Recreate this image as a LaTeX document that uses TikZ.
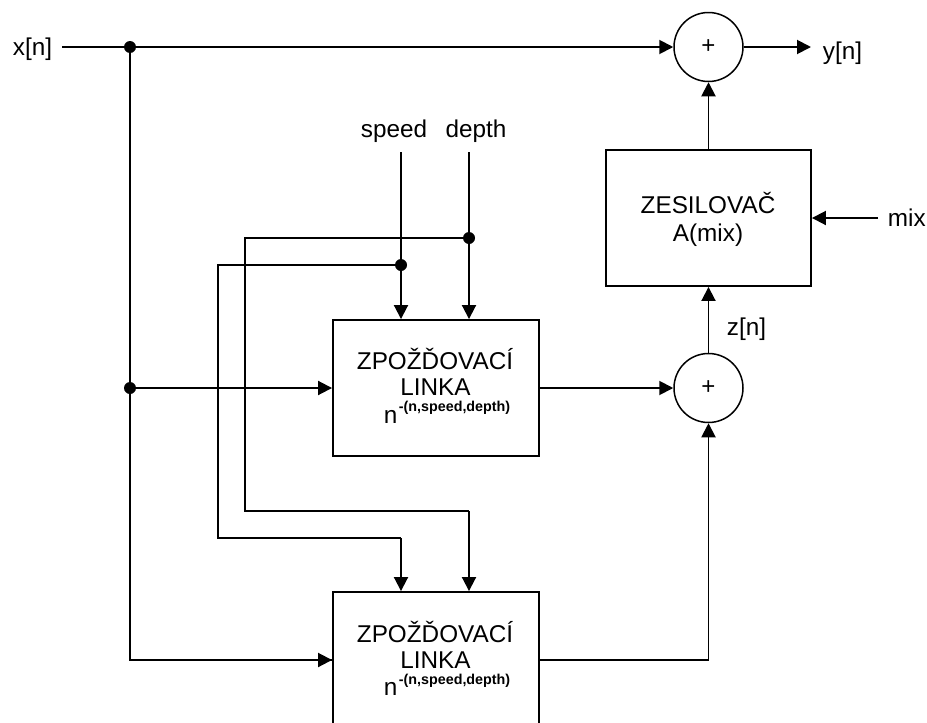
\documentclass[tikz,border=0pt]{standalone}
\usepackage{fontspec}
\setmainfont{Liberation Sans}
\usetikzlibrary{arrows.meta}
\begin{document}
\begin{tikzpicture}[x=1pt,y=-1pt,
  line width=1.9pt,
  lbl/.style={font=\fontsize{24.3}{28}\selectfont, inner sep=0pt},
  sup/.style={font=\fontsize{14.3}{16}\selectfont\bfseries, inner sep=0pt},
  blk/.style={draw, rectangle, minimum width=206pt, minimum height=136pt, inner sep=0pt},
  sumnode/.style={draw, circle, minimum size=69pt, inner sep=0pt, line width=1.5pt, font=\fontsize{24}{26}\selectfont},
  arr/.style={-{Triangle[length=14pt,width=14pt]}},
  jdot/.style={circle, fill, inner sep=0pt, minimum size=12pt}]
\useasboundingbox (0,0) rectangle (927,723);
\clip (0,0) rectangle (927,723);

% blocks
\node[blk] (box1) at (436,388) {};
\node[blk] (box2) at (436,660) {};
\node[blk, minimum width=205pt] (amp) at (708.5,218) {};
\node[sumnode] (sum1) at (708.5,47) {+};
\node[sumnode] (sum2) at (708.5,388) {+};

% texts
\node[lbl, anchor=base west] (xn) at (12,55) {x[n]};
\node[lbl, anchor=base west] (yn) at (822,59) {y[n]};
\node[lbl, anchor=base west] (mix) at (887,226) {mix};
\node[lbl, anchor=base west] (zn) at (726,335) {z[n]};
\node[lbl, anchor=base] (speed) at (394,137) {speed};
\node[lbl, anchor=base] (depth) at (476,137) {depth};
\node[lbl, anchor=base] (ampA) at (708,213) {ZESILOVAČ};
\node[lbl, anchor=base] (ampB) at (708,241) {A(mix)};
\node[lbl, anchor=base] (b1a) at (435,369) {ZPOŽĎOVACÍ};
\node[lbl, anchor=base] (b1b) at (435.5,395) {LINKA};
\node[lbl, anchor=base west] (b1n) at (383,423) {n};
\node[sup, anchor=base west] (b1s) at (398,411) {-(n,speed,depth)};
\node[lbl, anchor=base] (b2a) at (435,642) {ZPOŽĎOVACÍ};
\node[lbl, anchor=base] (b2b) at (435.5,668) {LINKA};
\node[lbl, anchor=base west] (b2n) at (383,695) {n};
\node[sup, anchor=base west] (b2s) at (398,684) {-(n,speed,depth)};

% coordinates
\coordinate (xs) at (62,47);
\coordinate (yend) at (811,47);
\coordinate (mixs) at (878,218);
\coordinate (sps) at (401,152);
\coordinate (dps) at (469,152);
\node[jdot] (j1) at (130,47) {};
\node[jdot] (j2) at (130,388) {};
\node[jdot] (jd) at (469,238) {};
\node[jdot] (js) at (401,265) {};
\coordinate (dA) at (245,238);
\coordinate (dB) at (245,511);
\coordinate (dC) at (469,511);
\coordinate (sA) at (218,265);
\coordinate (sB) at (218,538);
\coordinate (sC) at (401,538);

% connectors
\draw[arr] (xs) -- (sum1.west);
\draw[arr] (sum1.east) -- (yend);
\draw (j1.center) |- (box2.west);
\draw[arr] (j1.center |- box2.west) -- (box2.west);
\draw[arr] (j2.center) -- (box1.west);
\draw[arr] (sps) -- (sps |- box1.north);
\draw[arr] (dps) -- (dps |- box1.north);
\draw (jd.center) -- (dA) -- (dB) -- (dC);
\draw[arr] (dC) -- (dC |- box2.north);
\draw (js.center) -- (sA) -- (sB) -- (sC);
\draw[arr] (sC) -- (sC |- box2.north);
\draw[arr] (box1.east) -- (sum2.west);
\draw[arr] (box2.east) -| (sum2.south);
\draw[arr] (sum2.north) -- (amp.south);
\draw[arr] (amp.north) -- (sum1.south);
\draw[arr] (mixs) -- (amp.east);
\end{tikzpicture}
\end{document}
